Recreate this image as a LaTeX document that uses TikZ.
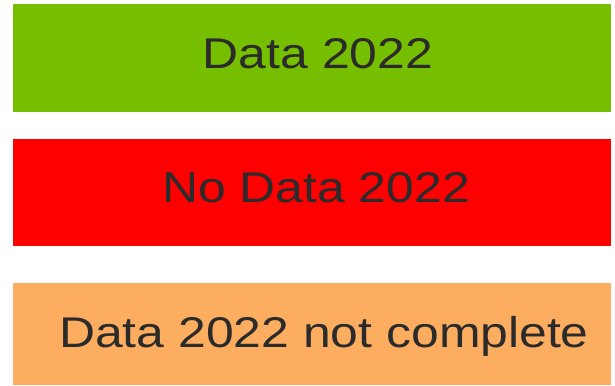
\documentclass[tikz,border=0pt]{standalone}
\usepackage{fontspec}
\newfontfamily\legendfont[FakeStretch=1.16]{Liberation Sans}
\definecolor{datagreen}{HTML}{76BF00}
\definecolor{nodatared}{HTML}{FF0000}
\definecolor{partorange}{HTML}{FDAD60}
\definecolor{legendtext}{HTML}{2B2B2B}
\tikzset{
  legendbox/.style={rectangle,inner sep=0pt,minimum width=598bp,anchor=north west},
  legendtext/.style={inner sep=0pt,anchor=base,text=legendtext,font=\legendfont\fontsize{43bp}{50bp}\selectfont},
}
\begin{document}
\begin{tikzpicture}[x=1bp,y=-1bp]
%%
\useasboundingbox (0,0) rectangle (615,385);
  \node (box_data) at (13bp,-4bp) [legendbox,fill=datagreen,minimum height=108bp] {};
  \node (box_nodata) at (13bp,-139bp) [legendbox,fill=nodatared,minimum height=107bp] {};
  \node (box_partial) at (13bp,-283bp) [legendbox,fill=partorange,minimum height=102bp] {};
  \node (txt_data) at (318bp,-68bp) [legendtext] {Data 2022};
  \node (txt_nodata) at (316bp,-202bp) [legendtext] {No Data 2022};
  \node (txt_partial) at (324bp,-347bp) [legendtext] {Data 2022 not complete};
%
\end{tikzpicture}
\end{document}
